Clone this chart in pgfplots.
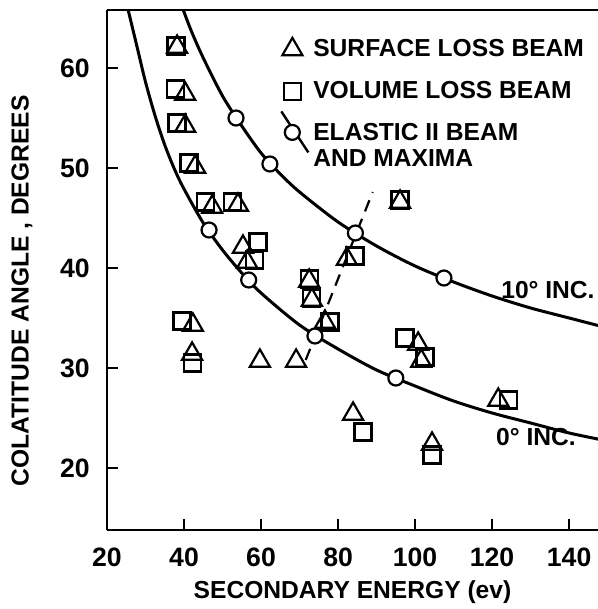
\documentclass[border=0pt]{standalone}
\usepackage{fontspec}
\setmainfont{Liberation Sans}
\usepackage{pgfplots}
\pgfplotsset{compat=1.18}
\begin{document}
\begin{tikzpicture}
\begin{axis}[
  scale only axis, width=245.5pt, height=260pt,
  xmin=20, xmax=147.5, ymin=13.8, ymax=65.8,
  axis x line=box, axis y line=left,
  axis line style={-, line width=1.3pt},
  xtick={20,40,...,140}, ytick={20,30,...,60},
  xtick pos=bottom, ytick pos=left,
  tick align=inside, major tick length=5.5pt,
  tick style={line width=1.1pt, black},
  /pgf/number format/assume math mode=true,
  tick label style={font=\fontsize{13.3}{15}\selectfont\bfseries},
  xticklabel style={anchor=center, yshift=-13.5pt},
  yticklabel style={anchor=center, xshift=-16pt},
  xlabel={SECONDARY ENERGY (ev)},
  ylabel={COLATITUDE ANGLE , DEGREES},
  label style={font=\fontsize{12.3}{14}\selectfont\bfseries},
  xlabel style={at={(axis description cs:0.5,-0.1192)}, anchor=center},
  ylabel style={at={(axis description cs:-0.1731,0.46)}, anchor=center},
  legend style={at={(axis description cs:0.342,0.952)}, anchor=north west,
    draw=none, fill=none, inner sep=0pt, row sep=7pt,
    font=\fontsize{12.3}{12.6}\selectfont\bfseries, cells={align=left}},
  legend cell align=left,
]
% 0 deg incidence curve
\addplot[line width=1.5pt, smooth, forget plot] coordinates {
(24.8,67.0) (25.5,65.8) (28,61.8) (30,58.6) (32.5,55.2) (35,52.3) (37.5,49.9)
(40,47.9) (45,44.5) (50,41.8) (55,39.5) (60,37.5) (70,34.3) (80,31.9) (90,29.8)
(100,28.2) (110,26.7) (120,25.5) (130,24.5) (140,23.5) (150,22.7)};
% 10 deg incidence curve
\addplot[line width=1.5pt, smooth, forget plot] coordinates {
(38.5,67.2) (40,65.6) (42,63.6) (45,61.0) (50,57.2) (55,54.2) (60,51.5) (65,49.4)
(70,47.6) (80,44.6) (90,42.2) (100,40.2) (110,38.6) (120,37.2) (130,36.0)
(140,35.0) (150,34.0)};
% dashed line
\addplot[line width=1.1pt, dash pattern=on 6pt off 4pt, forget plot] coordinates {
(71.6,30.8) (89,47.6)};
% surface loss beam
\addplot[only marks, mark=triangle, mark size=5.8pt, mark options={line width=1.1pt, black}] coordinates {
(38.2,62.1) (40.3,57.4) (40.3,54.2) (42.9,50.1) (47.3,46.1) (54.0,46.3)
(55.3,42.1) (56.4,40.6) (42.3,34.3) (42.1,31.4) (59.7,30.7) (69.1,30.7)
(96.1,46.6) (82.3,40.9) (72.5,38.7) (73.2,36.8) (76.6,34.6) (100.8,32.4)
(101.6,30.7) (121.6,26.8) (104.4,22.4) (83.9,25.4)};
\addlegendentry{SURFACE LOSS BEAM}
% volume loss beam
\addplot[only marks, mark=square, mark size=4.25pt, mark options={line width=1.1pt, black}] coordinates {
(37.9,62.2) (37.7,57.9) (38.2,54.5) (41.3,50.5) (45.5,46.6) (52.5,46.6)
(59.2,42.6) (58.2,40.8) (39.5,34.7) (42.3,30.5) (96.1,46.8) (84.4,41.2)
(72.5,38.9) (73.2,37.0) (77.9,34.6) (97.4,33.0) (102.6,31.1) (124.2,26.8)
(104.4,21.3) (86.5,23.6)};
\addlegendentry{VOLUME LOSS BEAM}
% elastic beam maxima
\addplot[only marks, mark=*, mark size=3.75pt, mark options={line width=1.1pt, draw=black, fill=white},
  legend image code/.code={
    \path[draw=none, fill=none] (0pt,-3.75pt) rectangle (17pt,3.75pt);
    \draw[overlay, line width=1.2pt] (3pt,17.5pt) -- (16.5pt,-3pt);
    \draw[overlay, line width=1.1pt, fill=white] (8.5pt,7pt) circle (3.75pt);}] coordinates {
(53.5,55.0) (62.3,50.4) (84.5,43.5) (107.5,39.0)
(46.5,43.8) (56.8,38.8) (74.0,33.2) (95.0,29.0)};
\addlegendentry{ELASTIC II BEAM\\AND MAXIMA}
\node[font=\fontsize{12.3}{14}\selectfont\bfseries] at (axis cs:134.5,37.8) {10° INC.};
\node[font=\fontsize{12.3}{14}\selectfont\bfseries] at (axis cs:131.4,23.1) {0° INC.};
\end{axis}
\pgfresetboundingbox
\path[use as bounding box] ([xshift=-53.5pt,yshift=-39.5pt]current axis.south west) rectangle ([yshift=5pt]current axis.north east);
\end{tikzpicture}
\end{document}
